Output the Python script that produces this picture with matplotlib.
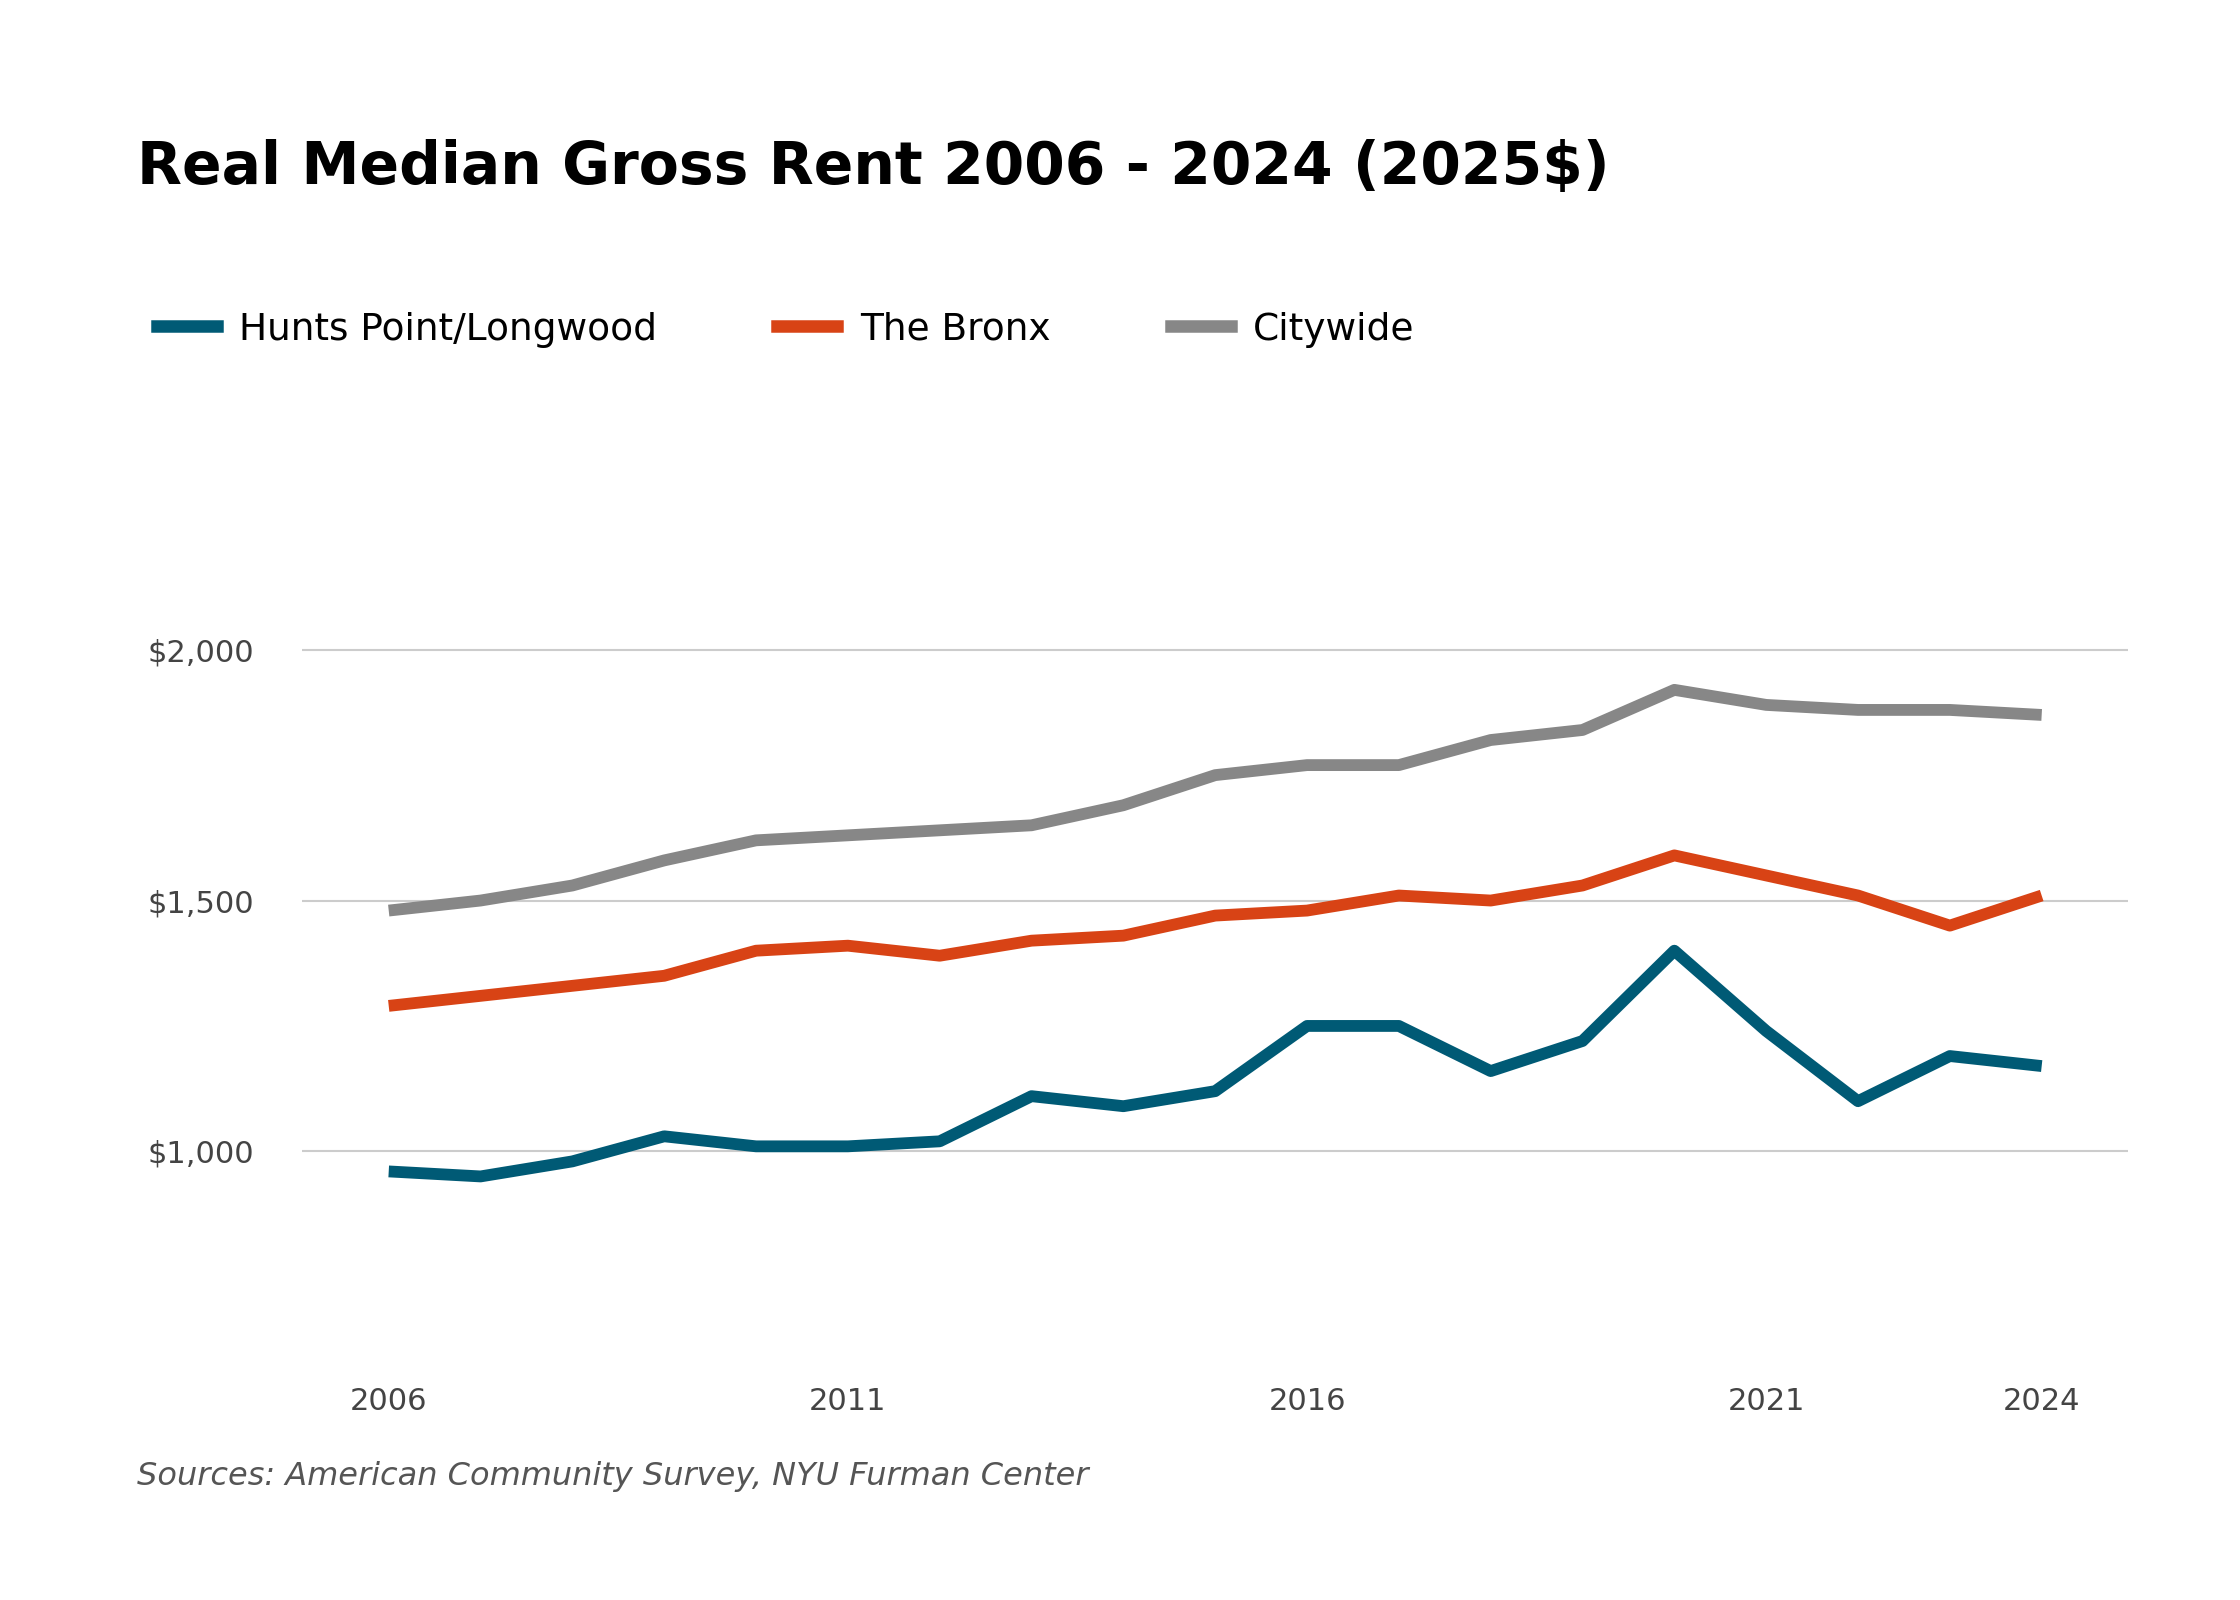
import matplotlib.pyplot as plt
from matplotlib.ticker import FuncFormatter
from matplotlib.lines import Line2D

years = list(range(2006, 2025))
hunts_point = [960, 950, 980, 1030, 1010, 1010, 1020, 1110, 1090, 1120,
               1250, 1250, 1160, 1220, 1400, 1240, 1100, 1190, 1170]
bronx = [1290, 1310, 1330, 1350, 1400, 1410, 1390, 1420, 1430, 1470,
         1480, 1510, 1500, 1530, 1590, 1550, 1510, 1450, 1510]
citywide = [1480, 1500, 1530, 1580, 1620, 1630, 1640, 1650, 1690, 1750,
            1770, 1770, 1820, 1840, 1920, 1890, 1880, 1880, 1870]
labels = ["Hunts Point/Longwood", "The Bronx", "Citywide"]
colors = ["#005a75", "#d84315", "#878787"]
xticks = [2006, 2011, 2016, 2021, 2024]
yticks = [1000, 1500, 2000]

fig = plt.figure(figsize=(22.4, 16), dpi=100)
ax = fig.add_axes([0.135, 0.155, 0.815, 0.58])

for vals, c in zip([hunts_point, bronx, citywide], colors):
    ax.plot(years, vals, color=c, linewidth=8.5, solid_capstyle="butt", zorder=3)

ax.set_xlim(2005.06, 2024.94)
ax.set_ylim(600, 2450)
ax.set_xticks(xticks)
ax.set_yticks(yticks)
ax.yaxis.set_major_formatter(FuncFormatter(lambda v, p: f"${v:,.0f}"))
ax.grid(axis="y", color="#cccccc", linewidth=1.5)
ax.tick_params(length=0, labelsize=22, colors="#444444")
ax.tick_params(axis="x", pad=25)
ax.tick_params(axis="y", pad=35)
for s in ax.spines.values():
    s.set_visible(False)

fig.text(0.061, 0.895, "Real Median Gross Rent 2006 - 2024 (2025$)",
         fontsize=42, fontweight="bold", va="center")

handles = [Line2D([0], [0], color=c, linewidth=9) for c in colors]
fig.legend(handles, labels, loc="center left", bbox_to_anchor=(0.055, 0.794),
           ncol=3, frameon=False, fontsize=27, handlelength=1.6,
           columnspacing=3.2, handletextpad=0.6)

fig.text(0.061, 0.077, "Sources: American Community Survey, NYU Furman Center",
         fontsize=23, style="italic", color="#555555", va="center")

fig.savefig("out.png", dpi=100)
